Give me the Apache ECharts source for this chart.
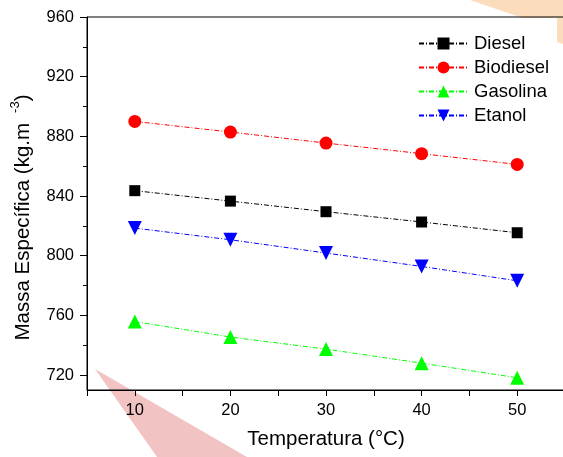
<!DOCTYPE html>
<html>
<head>
<meta charset="utf-8">
<script src="https://cdn.jsdelivr.net/npm/echarts@6/dist/echarts.min.js"></script>
<style>
  html, body { margin: 0; padding: 0; background: #fff; }
  #chart { width: 563px; height: 457px; }
</style>
</head>
<body>
<div id="chart"></div>
<script>
var temps = [10, 20, 30, 40, 50];
var diesel = [843.6, 836.6, 829.5, 822.6, 815.4];
var biodiesel = [890.0, 882.9, 875.5, 868.4, 861.2];
var gasolina = [755.9, 745.5, 737.4, 728.0, 718.2];
var etanol = [818.5, 810.7, 801.8, 792.8, 783.2];
var yMajor = [720, 760, 800, 840, 880, 920, 960];
var yMinor = [740, 780, 820, 860, 900, 940];

var font = 'Liberation Sans, Arial, sans-serif';
var dashDot = [5, 2, 1, 2];

function pairs(vals) {
    var out = [];
    for (var i = 0; i < temps.length; i++) {
        out.push([temps[i], vals[i]]);
    }
    return out;
}

function makeSeries(name, vals, color, symbol, size) {
    return {
        name: name,
        type: 'line',
        data: pairs(vals),
        symbol: symbol,
        symbolSize: size,
        symbolRotate: name == 'Etanol' ? 180 : 0,
        itemStyle: {color: color},
        lineStyle: {color: color, width: 1, type: dashDot},
        emphasis: {disabled: true}
    };
}

var myChart = echarts.init(document.getElementById('chart'));
var option = {
    animation: false,
    textStyle: {fontFamily: font},
    graphic: [
        {   // watermark pieces behind the chart
            type: 'polygon', z: -10,
            shape: {points: [[95, 369], [247, 457], [157, 457]]},
            style: {fill: '#f2c3c3'}
        },
        {
            type: 'polygon', z: -10,
            shape: {points: [[470, 0], [563, 0], [563, 44], [557, 42], [557, 18], [523, 18]]},
            style: {fill: '#fbdcbd'}
        }
    ],
    grid: {
        left: 87,
        right: -2,
        top: 17,
        bottom: 67,
        outerBoundsMode: 'none',
        show: true,
        borderColor: '#000',
        borderWidth: 1
    },
    legend: {
        orient: 'vertical',
        left: 413,
        top: 29,
        itemWidth: 49,
        itemHeight: 15,
        itemGap: 5,
        textStyle: {fontSize: 18.5, color: '#000', fontFamily: font, padding: [0, 0, 0, 1]},
        data: ['Diesel', 'Biodiesel', 'Gasolina', 'Etanol']
    },
    xAxis: [{
        type: 'value',
        min: 5,
        max: 55,
        interval: 5,
        name: 'Temperatura (°C)',
        nameLocation: 'middle',
        nameGap: 39,
        nameTextStyle: {fontSize: 20.5, color: '#000'},
        axisLine: {lineStyle: {color: '#000', width: 1}},
        axisTick: {show: true, length: 6, lineStyle: {color: '#000'}},
        axisLabel: {
            fontSize: 16.5, color: '#000', margin: 12,
            formatter: function (v) { return v % 10 == 0 ? String(v) : ''; }
        },
        splitLine: {show: false}
    }],
    yAxis: [{
        type: 'value',
        min: 710,
        max: 960,
        name: 'Massa Específica (kg.m{sup|-3})',
        nameLocation: 'middle',
        nameRotate: 90,
        nameGap: 50,
        nameTextStyle: {
            fontSize: 20.5, color: '#000',
            padding: [0, 28, 0, 0],
            rich: {
                sup: {fontSize: 13, color: '#000', verticalAlign: 'bottom', padding: [0, 0, 15, 10]}
            }
        },
        axisLine: {show: true, lineStyle: {color: '#000', width: 1}},
        axisTick: {show: true, length: 7, customValues: yMajor, lineStyle: {color: '#000'}},
        axisLabel: {fontSize: 16.5, color: '#000', margin: 13, customValues: yMajor},
        splitLine: {show: false}
    }, {
        type: 'value',
        min: 710,
        max: 960,
        position: 'left',
        axisLine: {show: false},
        axisTick: {show: true, length: 4, customValues: yMinor, lineStyle: {color: '#000'}},
        axisLabel: {show: false},
        splitLine: {show: false}
    }],
    series: [
        makeSeries('Diesel', diesel, '#000000', 'rect', 11),
        makeSeries('Biodiesel', biodiesel, '#ff0000', 'circle', 13),
        makeSeries('Gasolina', gasolina, '#00ff00', 'triangle', 14),
        makeSeries('Etanol', etanol, '#0000ff', 'triangle', 14)
    ]
};
myChart.setOption(option);
</script>
</body>
</html>
